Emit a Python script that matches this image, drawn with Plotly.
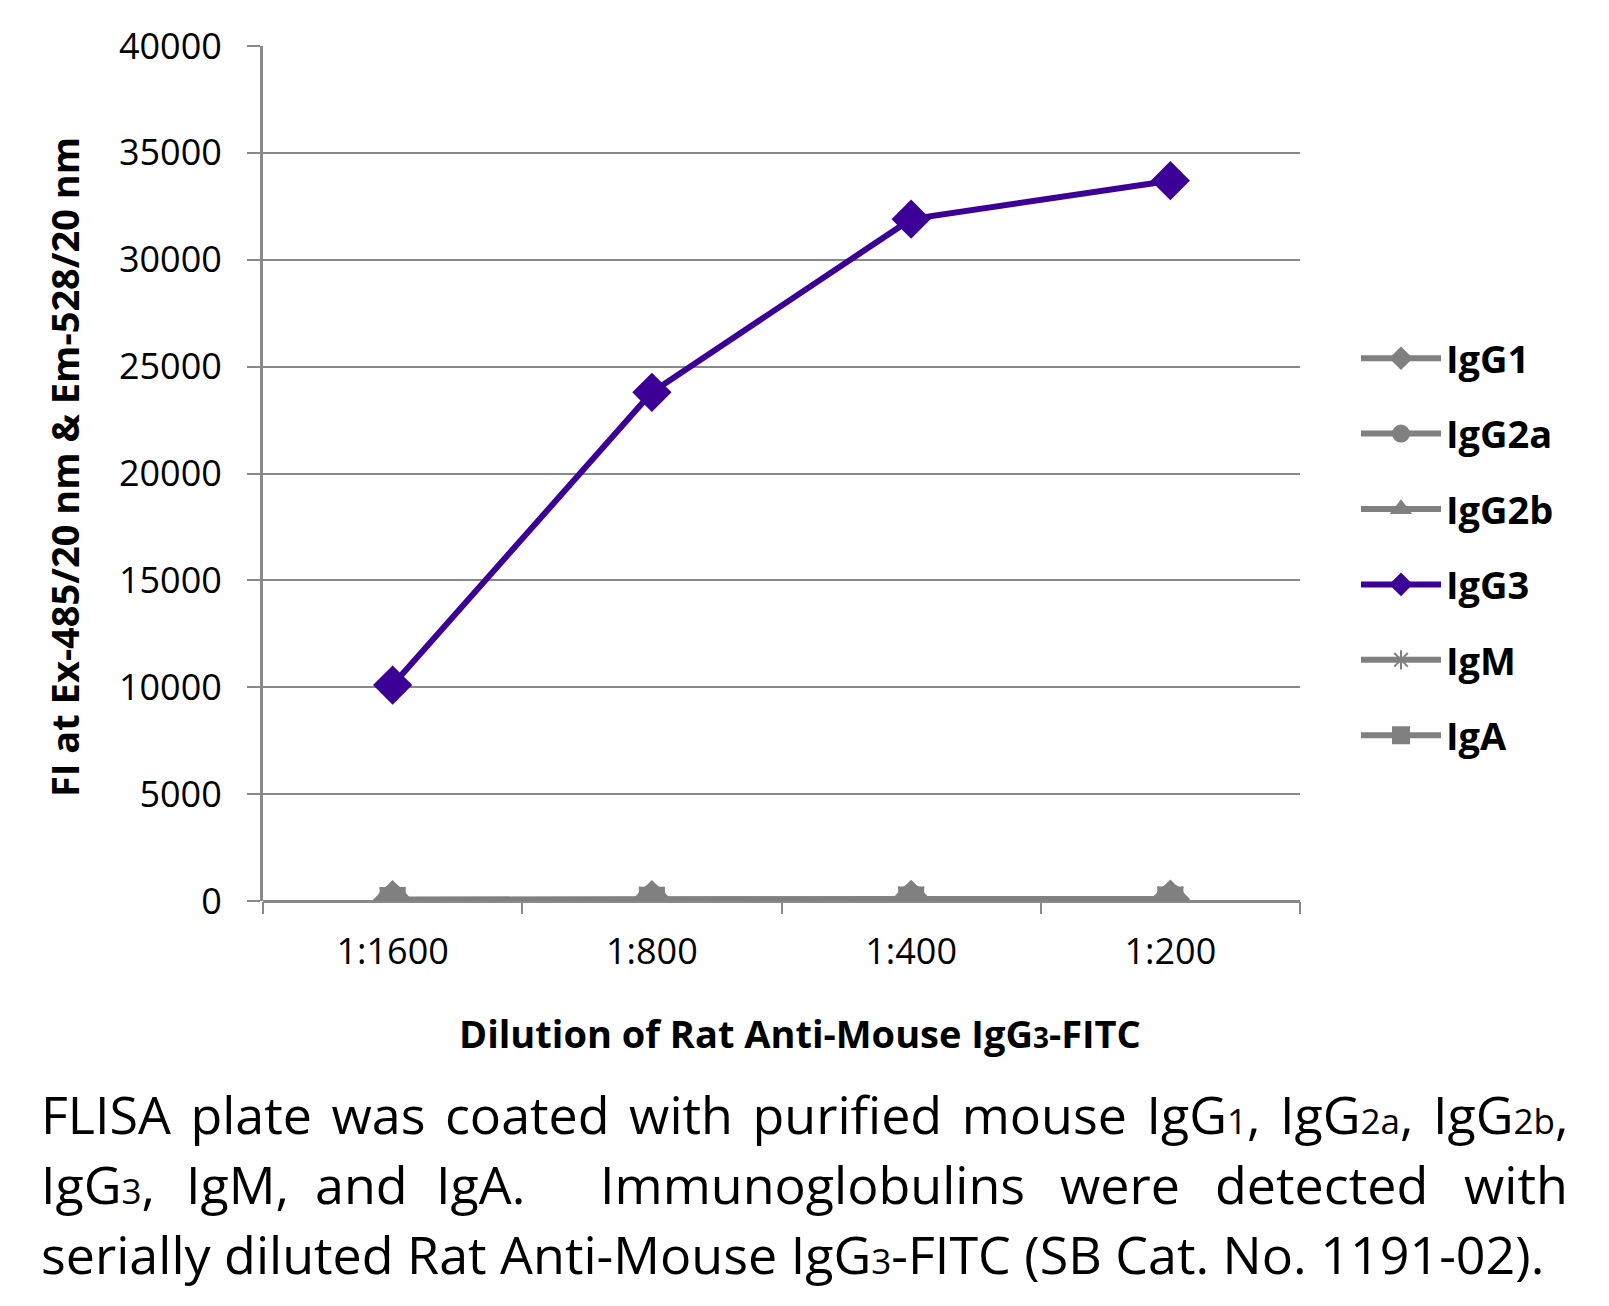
import plotly.graph_objects as go

categories = ["1:1600", "1:800", "1:400", "1:200"]
series_names = ["IgG1", "IgG2a", "IgG2b", "IgG3", "IgM", "IgA"]
igg1 = [60, 70, 80, 90]
igg2a = [50, 60, 70, 80]
igg2b = [55, 65, 75, 85]
igg3 = [10100, 23800, 31900, 33700]
igm = [40, 50, 60, 70]
iga = [45, 55, 65, 75]
y_ticks = [0, 5000, 10000, 15000, 20000, 25000, 30000, 35000, 40000]

values = [igg1, igg2a, igg2b, igg3, igm, iga]
symbols = ["diamond", "circle", "triangle-up", "diamond", "asterisk-open", "square"]
sizes = [28, 28, 28, 28, 30, 24]
GRAY = "#808080"
PURPLE = "#3C0096"
colors = [GRAY, GRAY, GRAY, PURPLE, GRAY, GRAY]

FONT = "Open Sans, Noto Sans, sans-serif"
W, H = 1609, 1306
L, R, T, B = 255, 317, 38, 413
PW, PH = W - L - R, H - T - B
OFF = 8  # page body offset


def px_x(X):
    return (X - OFF - L) / PW


def px_y(Y):
    return (T + OFF + PH - Y) / PH


fig = go.Figure()
for i, (name, vals) in enumerate(zip(series_names, values)):
    fig.add_trace(go.Scatter(
        x=categories, y=vals, name=name, mode="lines+markers",
        legendgroup=name,
        line=dict(color=colors[i], width=6),
        marker=dict(symbol=symbols[i], size=sizes[i], color=colors[i],
                    line=dict(color=colors[i], width=2)),
    ))

fig.update_layout(
    width=W, height=H,
    paper_bgcolor="white", plot_bgcolor="white",
    margin=dict(l=L, r=R, t=T, b=B),
    font=dict(family=FONT, color="black"),
    showlegend=True,
    legend=dict(
        x=px_x(1356), y=px_y(547), xanchor="left", yanchor="middle",
        font=dict(size=38, family=FONT, weight="bold"),
        tracegroupgap=23, itemwidth=80,
        traceorder="grouped", bgcolor="rgba(0,0,0,0)",
    ),
    xaxis=dict(
        type="category", range=[-0.5, 3.5], tickson="boundaries",
        ticks="outside", ticklen=12, tickwidth=2, tickcolor="#898989",
        showline=False, showgrid=False, zeroline=False,
        tickfont=dict(size=36, family=FONT),
        ticklabelstandoff=26,
    ),
    yaxis=dict(
        range=[0, 40000], tickvals=y_ticks, ticktext=[str(v) for v in y_ticks],
        showgrid=True, gridcolor="#898989", gridwidth=2,
        ticks="outside", ticklen=13, tickwidth=2, tickcolor="#898989",
        showline=True, linecolor="#898989", linewidth=3,
        zeroline=True, zerolinecolor="#898989", zerolinewidth=3,
        tickfont=dict(size=36, family=FONT),
        ticklabelstandoff=18,
    ),
)

# axis titles
fig.add_annotation(
    text="<b>Dilution of Rat Anti-Mouse IgG<span style='font-size:28px'>3</span>-FITC</b>",
    xref="paper", yref="paper", x=px_x(800), y=px_y(1033),
    xanchor="center", yanchor="middle", showarrow=False,
    font=dict(size=38, family=FONT, color="black"),
)
fig.add_annotation(
    text="<b>FI at Ex-485/20 nm & Em-528/20 nm</b>",
    xref="paper", yref="paper", x=px_x(64), y=px_y(467),
    xanchor="center", yanchor="middle", showarrow=False, textangle=-90,
    font=dict(size=38, family=FONT, color="black"),
)

# caption
cap_font = dict(size=52, family=FONT, color="black")
sub = "<span style='font-size:35px'>%s</span>"
ws = "<span style='word-spacing:6px'>%s</span>"
line1 = (ws % "FLISA plate was coated with purified mouse IgG" + sub % "1"
         + ws % ", IgG" + sub % "2a" + ws % ", IgG" + sub % "2b" + ",")
line3 = "serially diluted Rat Anti-Mouse IgG" + sub % "3" + "-FITC (SB Cat. No. 1191-02)."
line2_words = ["IgG" + sub % "3" + ",", "IgM,", "and", "IgA.", "Immunoglobulins", "were", "detected", "with"]
line2_x = [41, 186, 315, 436, 600, 1060, 1215, 1568]

for txt, yp in [(line1, 1113), (line3, 1253)]:
    fig.add_annotation(
        text=txt, xref="paper", yref="paper",
        x=px_x(39), y=px_y(yp),
        xanchor="left", yanchor="middle", showarrow=False,
        font=cap_font, align="left",
    )
for k, (txt, xp) in enumerate(zip(line2_words, line2_x)):
    last = k == len(line2_words) - 1
    fig.add_annotation(
        text=txt, xref="paper", yref="paper",
        x=px_x(xp + (2 if last else -2)), y=px_y(1183),
        xanchor="right" if last else "left", yanchor="middle", showarrow=False,
        font=cap_font, align="left",
    )

fig.write_html("out.html")
